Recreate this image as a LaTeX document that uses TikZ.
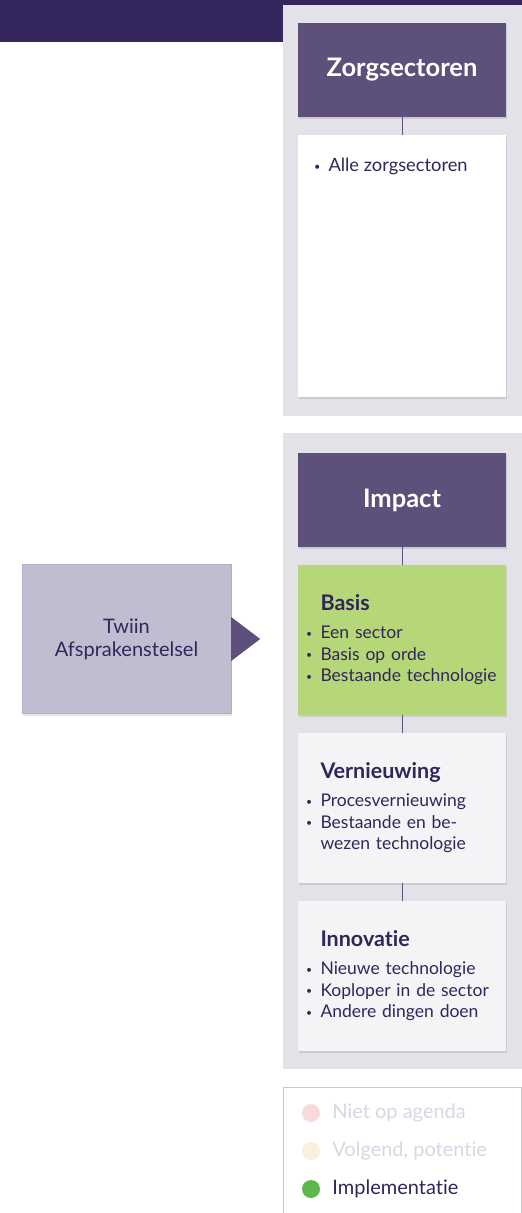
\documentclass[tikz,border=0pt]{standalone}
\usepackage{fontspec}
\setmainfont{Lato}[Ligatures={NoCommon,NoRare}]
\usetikzlibrary{positioning,shadows}
\newcommand\itm[1]{\makebox[14.5pt][l]{\raisebox{1.5pt}{\scalebox{.6}{\textbullet}}}#1}
\newcommand\cardtitle[1]{\hspace*{14.5pt}{\fontsize{21.5}{21.5}\selectfont\bfseries #1}}

\begin{document}
\begin{tikzpicture}[x=1pt,y=-1pt,
  softshadow/.style={drop shadow={shadow xshift=0.5pt,shadow yshift=-2pt,opacity=.1,fill=black}},
  hdr/.style={fill=hdrpurple,text=white,minimum width=208pt,minimum height=94pt,font=\fontsize{25.5}{28}\selectfont\bfseries,softshadow},
  card/.style={minimum width=208pt,minimum height=150pt,text width=192pt,inner xsep=8pt,align=left,text=ink,font=\fontsize{17.5}{21.5}\selectfont,softshadow},
  link/.style={draw=hdrpurple,line width=1pt},
  dot/.style={circle,minimum size=18pt,inner sep=0pt},
  legtext/.style={inner sep=0pt,font=\fontsize{20}{22}\selectfont}]
\definecolor{topbar}{HTML}{34255D}
\definecolor{panelgrey}{HTML}{E3E2E9}
\definecolor{hdrpurple}{HTML}{5D507B}
\definecolor{ink}{HTML}{33255C}
\definecolor{basisgreen}{HTML}{B5D777}
\definecolor{cardgrey}{HTML}{F4F4F6}
\definecolor{twiinfill}{HTML}{C1BDD0}
\definecolor{twiinedge}{HTML}{B3AECB}
\definecolor{legedge}{HTML}{CAC7DC}
\definecolor{faded}{HTML}{D8D6E2}
\definecolor{dotpink}{HTML}{F8DADA}
\definecolor{dotcream}{HTML}{FBF0DD}
\definecolor{dotgreen}{HTML}{5BB84B}
\useasboundingbox (0,0) rectangle (522,1213);
\fill[topbar] (0,0) rectangle (522,5);
\fill[topbar] (0,0) rectangle (283,42);
\fill[panelgrey] (283,5) rectangle (522,416);
\fill[panelgrey] (283,433) rectangle (522,1069);

\node[hdr] (zorg) at (402,70) {Zorgsectoren};
\node[card,fill=white,minimum height=262pt] (alle) at (402,266) {};
\node[anchor=base west,inner sep=0pt,text=ink,font=\fontsize{18.3}{21.5}\selectfont] (alletxt)
  at ([shift={(16,37)}]alle.north west) {\itm{Alle zorgsectoren}};
\draw[link] (zorg) -- (alle);

\node[hdr] (impact) at (402,500) {Impact};
\node[card,fill=basisgreen] (basis) at (402,640) {\cardtitle{Basis}\\[6.5pt]
  \itm{Een sector}\\ \itm{Basis op orde}\\ \itm{Bestaande technologie}};
\node[card,fill=cardgrey] (vern) at (402,808) {\cardtitle{Vernieuwing}\\[6.5pt]
  \itm{Procesvernieuwing}\\ \itm{Bestaande en be-}\\ \hspace*{14.5pt}wezen technologie};
\node[card,fill=cardgrey] (innov) at (402,976) {\cardtitle{Innovatie}\\[6.5pt]
  \itm{Nieuwe technologie}\\ \itm{Koploper in de sector}\\ \itm{Andere dingen doen}};
\draw[link] (impact) -- (basis);
\draw[link] (basis) -- (vern);
\draw[link] (vern) -- (innov);

\node[fill=twiinfill,draw=twiinedge,minimum width=209pt,minimum height=149pt,align=center,text=ink,
  font=\fontsize{20}{23}\selectfont,softshadow] (twiin) at (126.5,639) {Twiin\\Afsprakenstelsel};
\fill[hdrpurple] ([yshift=22pt]twiin.east) -- ([xshift=29pt]twiin.east) -- ([yshift=-22pt]twiin.east) -- cycle;

\draw[legedge,line width=1pt] (283,1213) |- (521,1087) -- (521,1213);
\foreach \clr/\tclr/\txt/\yy in {dotpink/faded/Niet op agenda/1113,dotcream/faded/{Volgend, potentie}/1151,dotgreen/ink/Implementatie/1189}
  { \node[dot,fill=\clr] (dot\yy) at (311,\yy) {};
    \node[legtext,text=\tclr,right=12pt of dot\yy] (leg\yy) {\txt}; }
\end{tikzpicture}
\end{document}
